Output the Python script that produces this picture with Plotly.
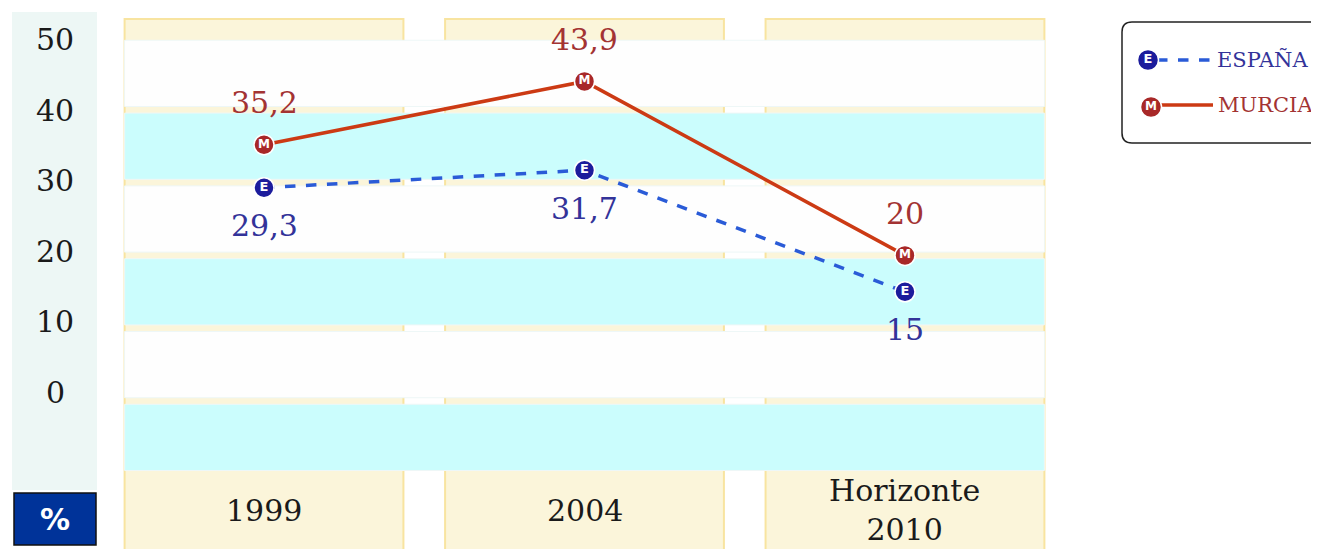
import plotly.graph_objects as go

# ---- data ----
categories = ["1999", "2004", "Horizonte<br>2010"]
espana = [29.3, 31.7, 15]
murcia = [35.2, 43.9, 20]
y_ticks = [0, 10, 20, 30, 40, 50]
series_names = ["ESPAÑA", "MURCIA"]

# ---- layout geometry (reference pixels -> figure pixels, page has 8px body margin) ----
OFF = 8
W, H = 1319 - OFF, 549 - OFF
L, T, B = 123 - OFF, 18 - OFF, 0
PLOT_RIGHT = 1046 - OFF
PW, PH = W - L, H - T - B
PX_PER_UNIT = 7.28
ZERO_PX = 401 - OFF
Y_TOP = (ZERO_PX - T) / PX_PER_UNIT
Y_BOT = (ZERO_PX - H) / PX_PER_UNIT
X_DOMAIN_END = (PLOT_RIGHT - L) / PW


def px(x):
    """reference page x -> paper"""
    return (x - OFF - L) / PW


def py(y):
    """reference page y -> paper"""
    return 1 - (y - OFF - T) / PH


def gx(x):
    return x - OFF


def gy(y):
    return y - OFF


FONT = "DejaVu Serif"
BLUE_LINE = "#2A5BD7"
RED_LINE = "#CC3A14"
BLUE_MARK = "#1C1C9C"
RED_MARK = "#A82828"
BLUE_TXT = "#333399"
RED_TXT = "#A33333"
CYAN = "#CBFDFD"
CREAM = "#FBF5DA"
GOLD = "#F8E4A0"

xs = list(range(len(categories)))


def fmt(v):
    return ("%g" % v).replace(".", ",")


fig = go.Figure()

MARKER_SIZE = 20
letter_e = dict(color="white", size=13, family="DejaVu Sans", weight="bold")
letter_m = dict(color="white", size=12, family="DejaVu Sans", weight="bold")

fig.add_trace(go.Scatter(x=xs, y=espana, mode="lines+markers", name=series_names[0],
                         line=dict(color=BLUE_LINE, width=3.5, dash="dash"),
                         marker=dict(size=MARKER_SIZE, color=BLUE_MARK, line=dict(color="white", width=1.5)),
                         hoverinfo="skip"))
fig.add_trace(go.Scatter(x=xs, y=murcia, mode="lines+markers", name=series_names[1],
                         line=dict(color=RED_LINE, width=3.5),
                         marker=dict(size=MARKER_SIZE, color=RED_MARK, line=dict(color="white", width=1.5)),
                         hoverinfo="skip"))
fig.add_trace(go.Scatter(x=xs, y=espana, mode="text", text=["E"] * len(xs),
                         textposition="middle center", textfont=letter_e, hoverinfo="skip"))
fig.add_trace(go.Scatter(x=xs, y=murcia, mode="text", text=["M"] * len(xs),
                         textposition="middle center", textfont=letter_m, hoverinfo="skip"))

# ---- legend (drawn on a pixel overlay axis) ----
leg_items = [
    dict(cx=1148, cy=60, lx0=1157, lx1=1212, ly=60, col=BLUE_MARK, lcol=BLUE_LINE, dash="dash",
         letter="E", lf=letter_e, tx=1215, ty=60, tcol=BLUE_TXT, name=series_names[0]),
    dict(cx=1151, cy=107, lx0=1160, lx1=1213, ly=105, col=RED_MARK, lcol=RED_LINE, dash="solid",
         letter="M", lf=letter_m, tx=1216, ty=105, tcol=RED_TXT, name=series_names[1]),
]
for it in leg_items:
    fig.add_trace(go.Scatter(x=[gx(it["lx0"]), gx(it["lx1"])], y=[gy(it["ly"])] * 2, mode="lines",
                             line=dict(color=it["lcol"], width=3.5, dash=it["dash"]),
                             xaxis="x2", yaxis="y2", hoverinfo="skip"))
    fig.add_trace(go.Scatter(x=[gx(it["cx"])], y=[gy(it["cy"])], mode="markers+text",
                             marker=dict(size=MARKER_SIZE + 1, color=it["col"], line=dict(color="white", width=1.5)),
                             text=[it["letter"]], textposition="middle center", textfont=it["lf"],
                             xaxis="x2", yaxis="y2", hoverinfo="skip"))

shapes = []
# cream columns
for i in xs:
    shapes.append(dict(type="rect", xref="x", yref="y", x0=i - 0.435, x1=i + 0.435,
                       y0=Y_BOT - 2, y1=Y_TOP - 0.15, fillcolor=CREAM,
                       line=dict(color=GOLD, width=2), layer="below"))
# horizontal bands
for k in range(-1, 5):
    color = CYAN if k in (-1, 1, 3) else "#FEFEFE"
    shapes.append(dict(type="rect", xref="x", yref="y", x0=-0.435, x1=2.435,
                       y0=k * 10 + 0.45, y1=k * 10 + 9.55, fillcolor=color,
                       line=dict(color="#EEF7F7", width=1), layer="below"))
# left strip
shapes.append(dict(type="rect", xref="paper", yref="paper", x0=px(12), x1=px(97),
                   y0=py(490), y1=py(12), fillcolor="#EDF7F5", line=dict(width=0), layer="below"))
# % box
shapes.append(dict(type="rect", xref="paper", yref="paper", x0=px(14), x1=px(96),
                   y0=py(545), y1=py(493), fillcolor="#003399", line=dict(color="#111111", width=1.5)))
# legend box (rounded, runs off right edge)
x0, x1, y0, y1, r = gx(1122), gx(1345), gy(22), gy(143), 10
path = (f"M {x0 + r} {y0} L {x1} {y0} L {x1} {y1} L {x0 + r} {y1} "
        f"Q {x0} {y1} {x0} {y1 - r} L {x0} {y0 + r} Q {x0} {y0} {x0 + r} {y0} Z")
shapes.append(dict(type="path", xref="x2", yref="y2", path=path,
                   line=dict(color="#222222", width=1.5), fillcolor="white", layer="below"))

annotations = []
for v in y_ticks:
    annotations.append(dict(xref="paper", yref="y", x=px(55), y=v, text=str(v),
                            showarrow=False, xanchor="center", yanchor="middle",
                            yshift=9 - v * 0.235,
                            font=dict(family=FONT, size=30, color="#1a1a1a")))
for i, c in enumerate(categories):
    annotations.append(dict(xref="x", yref="y", x=i, y=-15.0, text=c, showarrow=False,
                            xanchor="center", yanchor="middle",
                            font=dict(family=FONT, size=30, color="#1a1a1a")))
for i, v in enumerate(murcia):
    annotations.append(dict(xref="x", yref="y", x=i, y=v, text=fmt(v), showarrow=False,
                            xanchor="center", yanchor="middle", yshift=42,
                            font=dict(family=FONT, size=30, color=RED_TXT)))
for i, v in enumerate(espana):
    annotations.append(dict(xref="x", yref="y", x=i, y=v, text=fmt(v), showarrow=False,
                            xanchor="center", yanchor="middle", yshift=-38,
                            font=dict(family=FONT, size=30, color=BLUE_TXT)))
annotations.append(dict(xref="paper", yref="paper", x=px(55), y=py(519), text="<b>%</b>",
                        showarrow=False, xanchor="center", yanchor="middle",
                        font=dict(family="DejaVu Sans", size=30, color="white")))
for it in leg_items:
    annotations.append(dict(xref="x2", yref="y2", x=gx(it["tx"]), y=gy(it["ty"]), text=it["name"],
                            showarrow=False, xanchor="left", yanchor="middle",
                            font=dict(family=FONT, size=21, color=it["tcol"])))

fig.update_layout(
    width=W, height=H,
    margin=dict(l=L, r=0, t=T, b=B),
    paper_bgcolor="white", plot_bgcolor="rgba(0,0,0,0)",
    showlegend=False,
    shapes=shapes, annotations=annotations,
    xaxis=dict(range=[-0.44, 2.44], domain=[0, X_DOMAIN_END], visible=False, fixedrange=True),
    yaxis=dict(range=[Y_BOT, Y_TOP], visible=False, fixedrange=True),
    xaxis2=dict(range=[L, W], domain=[0, 1], visible=False, fixedrange=True, anchor="y2"),
    yaxis2=dict(range=[H, T], domain=[0, 1], visible=False, fixedrange=True, anchor="x2",
                overlaying="y"),
)

fig.write_html("out.html")
